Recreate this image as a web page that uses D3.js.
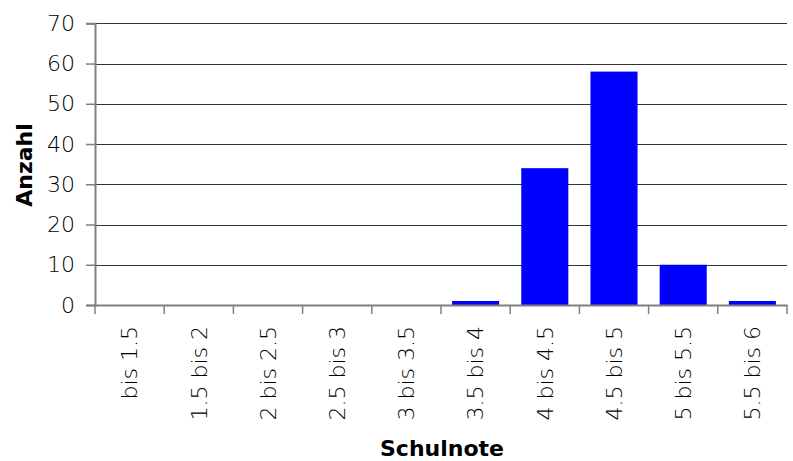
<!DOCTYPE html>
<html><head><meta charset="utf-8">
<script src="https://cdn.jsdelivr.net/npm/d3@7"></script>
<style>
body{margin:0;background:#fff;}
svg{display:block;}
text{font-family:"DejaVu Sans",sans-serif;}
</style></head>
<body>
<svg id="chart" width="793" height="461"></svg>
<script>
const categories = ["bis 1.5","1.5 bis 2","2 bis 2.5","2.5 bis 3","3 bis 3.5","3.5 bis 4","4 bis 4.5","4.5 bis 5","5 bis 5.5","5.5 bis 6"];
const values = [0,0,0,0,0,1,34,58,10,1];
const yTicks = [0,10,20,30,40,50,60,70];
const yTitle = "Anzahl";
const xTitle = "Schulnote";

(function(){
const svg = d3.select("#chart");
const mLeft = 95, mRight = 787, mTop = 23.3, mBottom = 305;
const FONT = "'DejaVu Sans', sans-serif";

const x = d3.scaleBand().domain(categories).range([mLeft, mRight]).paddingInner(0.32).paddingOuter(0.16);
const y = d3.scaleLinear().domain([0,70]).range([mBottom, mTop]);

// gridlines
svg.append("g").selectAll("line").data(yTicks.filter(d=>d>0)).join("line")
  .attr("x1", mLeft).attr("x2", mRight)
  .attr("y1", d=>Math.round(y(d))+0.5).attr("y2", d=>Math.round(y(d))+0.5)
  .attr("stroke", "#333").attr("stroke-width", 1);

// bars
svg.append("g").selectAll("rect").data(values).join("rect")
  .attr("x", (d,i)=>x(categories[i]))
  .attr("width", x.bandwidth())
  .attr("y", d=>y(d))
  .attr("height", d=>mBottom - y(d))
  .attr("fill", "#0000ff");

// y axis
const yAxis = svg.append("g").attr("transform", `translate(${mLeft},0)`)
  .call(d3.axisLeft(y).tickValues(yTicks).tickSize(9).tickPadding(11));
yAxis.select(".domain").attr("stroke", "#808080").attr("stroke-width", 2);
yAxis.selectAll(".tick line").attr("stroke", "#808080").attr("stroke-width", 1.5);
yAxis.selectAll(".tick text").attr("font-size", 22).attr("font-weight", 200).attr("fill", "#000")
  .attr("font-family", FONT);

// x axis
const xAxis = svg.append("g").attr("transform", `translate(0,${mBottom})`)
  .call(d3.axisBottom(x).tickSize(0).tickPadding(0));
xAxis.select(".domain").attr("stroke", "#808080").attr("stroke-width", 2);
// category boundary ticks
const bounds = d3.range(categories.length + 1).map(i => mLeft + i * x.step());
svg.append("g").selectAll("line").data(bounds).join("line")
  .attr("x1", d=>d).attr("x2", d=>d).attr("y1", mBottom).attr("y2", mBottom + 9)
  .attr("stroke", "#808080").attr("stroke-width", 1.5);
xAxis.selectAll(".tick text")
  .attr("font-size", 22).attr("font-weight", 200).attr("fill", "#000")
  .attr("font-family", FONT)
  .attr("text-anchor", "end")
  .attr("dy", "0.35em")
  .attr("transform", "translate(0,21) rotate(-90)");

// titles
svg.append("text").attr("transform", `translate(32,165) rotate(-90)`)
  .attr("text-anchor", "middle").attr("font-size", 22).attr("font-weight", "bold")
  .text(yTitle);
svg.append("text").attr("x", 442).attr("y", 455.5)
  .attr("text-anchor", "middle").attr("font-size", 22).attr("font-weight", "bold")
  .text(xTitle);
})();
</script>
</body></html>
